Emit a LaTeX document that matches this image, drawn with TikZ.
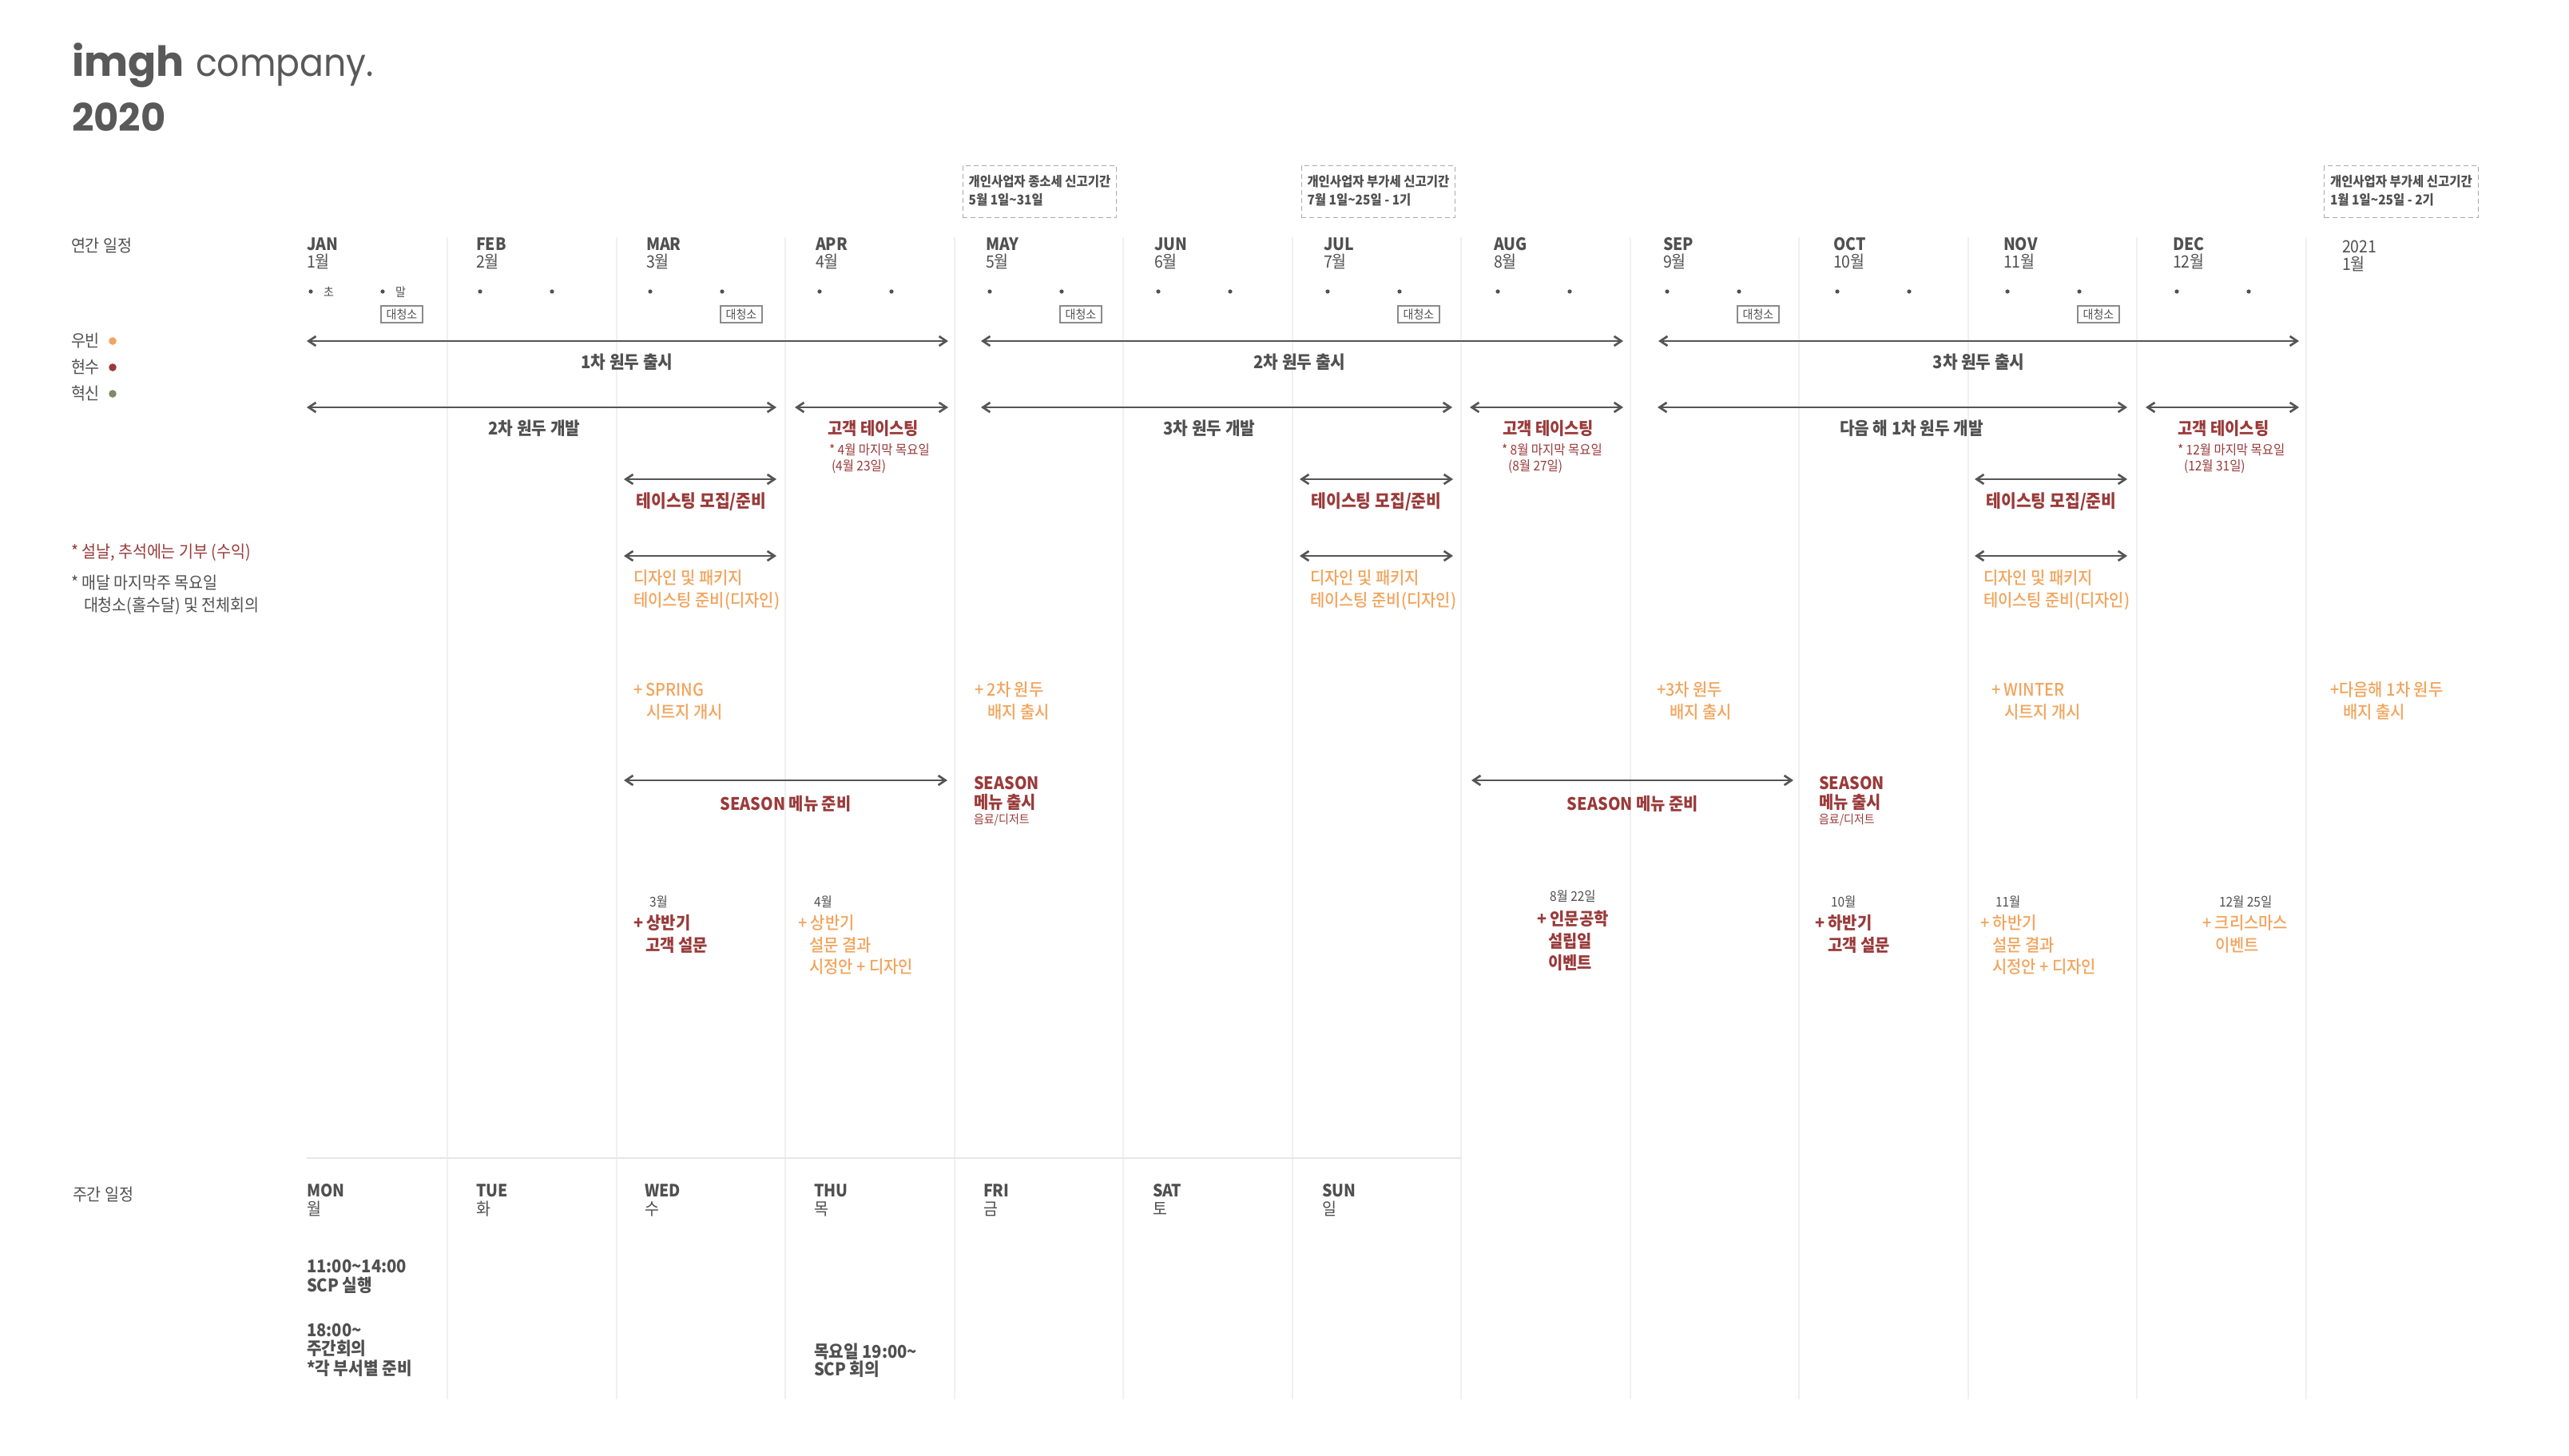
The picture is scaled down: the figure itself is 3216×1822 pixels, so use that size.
\documentclass[tikz,border=0pt]{standalone}
\usepackage{fontspec}
\setmainfont{Noto Sans CJK KR}[FakeStretch=0.92]
\newfontfamily\medfont{Noto Sans CJK KR Medium}[FakeStretch=0.92]
\newfontfamily\titlefont{Poppins}
\newfontfamily\titlefontn{Poppins}[FakeStretch=0.92]
\usetikzlibrary{arrows.meta}
\definecolor{txt}{HTML}{505050}
\definecolor{titlec}{HTML}{595959}
\definecolor{redc}{HTML}{9A3A3A}
\definecolor{orac}{HTML}{F2A45C}
\definecolor{grnc}{HTML}{7D8C68}
\definecolor{sepc}{HTML}{F0F0F0}
\definecolor{hlc}{HTML}{E6E6E6}
\definecolor{boxc}{HTML}{8A8A8A}
\definecolor{dashc}{HTML}{AAAAAA}
\definecolor{arrc}{HTML}{555555}
\newcommand\fsMon{\fontsize{10.6pt}{13pt}\selectfont}
\newcommand\fsMain{\fontsize{10.6pt}{12pt}\selectfont}
\newcommand\fsLab{\fontsize{11pt}{13pt}\selectfont}
\newcommand\fsRed{\fontsize{10.8pt}{12pt}\selectfont}
\newcommand\fsTp{\fontsize{11.1pt}{13pt}\selectfont}
\newcommand\fsWk{\fontsize{11pt}{13pt}\selectfont}
\newcommand\fsSmall{\fontsize{8.4pt}{10pt}\selectfont}
\newcommand\fsTiny{\fontsize{7.6pt}{9pt}\selectfont}
\tikzset{
  lbl/.style={inner sep=0pt, outer sep=0pt, anchor=base west, text=txt},
  clbl/.style={lbl, anchor=base},
  monA/.style={lbl, font=\fsMon\bfseries},
  monK/.style={lbl, font=\fsMon},
  plain/.style={lbl, font=\fsMain},
  rowlab/.style={clbl, font=\fsLab\bfseries},
  redlab/.style={lbl, font=\fsRed\bfseries, text=redc},
  credlab/.style={clbl, font=\fsRed\bfseries, text=redc},
  tplab/.style={clbl, font=\fsTp\bfseries, text=redc},
  rednote/.style={lbl, font=\fsSmall, text=redc},
  oratxt/.style={lbl, font=\medfont\fsRed, text=orac},
  datelab/.style={lbl, font=\fsSmall},
  boldtxt/.style={lbl, font=\fsWk\bfseries},
  boxtxt/.style={lbl, font=\fsSmall\bfseries},
  cleanbox/.style={draw=boxc, line width=0.7pt, inner sep=0pt, minimum width=26pt, minimum height=10.5pt, font=\fsTiny, text=txt},
  dbox/.style={draw=dashc, dashed, dash pattern=on 3pt off 2pt, line width=0.65pt, inner sep=0pt, minimum width=96.25pt, minimum height=32.5pt, anchor=north west},
  span/.style={draw=arrc, line width=1.35pt, >={Straight Barb[length=4.5pt,width=6pt]}, <->},
  sepline/.style={draw=sepc, line width=1pt}
}
\begin{document}
\begin{tikzpicture}[x=0.5pt,y=-0.5pt]
\useasboundingbox (0,0) rectangle (3216,1822);
\fill[white] (0,0) rectangle (3216,1822);

% column separators
\foreach \x in {560,771.5,983,1194.5,1406,1617.5,1829,2040.5,2252,2463.5,2675,2886.5}
  \draw[sepline] (\x,297) -- (\x,1752);
\draw[draw=hlc, line width=1.4pt] (384,1450) -- (1829,1450);

% title
\node[lbl, text=titlec, font=\titlefont\fontsize{26pt}{30pt}\selectfont\bfseries] (logo) at (90,95) {imgh};
\node[lbl, text=titlec, font=\titlefontn\fontsize{24pt}{30pt}\selectfont] (company) at (245,95) {company.};
\node[lbl, text=titlec, font=\titlefont\fontsize{24pt}{30pt}\selectfont\bfseries] (year) at (90,164) {2020};

% left column
\node[plain] (annual) at (89,315) {연간 일정};
\node[plain] (wb) at (89,434) {우빈};
\node[plain] (hs) at (89,467) {현수};
\node[plain] (hx) at (89,500) {혁신};
\fill[orac] (141,427) circle (2.4pt);
\fill[redc] (141,460) circle (2.4pt);
\fill[grnc] (141,493) circle (2.4pt);
\node[plain, text=redc] (note1) at (89,698) {* 설날, 추석에는 기부 (수익)};
\node[plain] (note2) at (89,737) {* 매달 마지막주 목요일};
\node[plain] (note3) at (105,765) {대청소(홀수달) 및 전체회의};
\node[plain] (weekly) at (91,1503) {주간 일정};

% months
\foreach \x/\a/\k [count=\i] in {384/JAN/1월,596/FEB/2월,809/MAR/3월,1021/APR/4월,1234/MAY/5월,1445/JUN/6월,1657/JUL/7월,1870/AUG/8월,2082/SEP/9월,2295/OCT/10월,2508/NOV/11월,2720/DEC/12월}{
  \node[monA] (ma\i) at (\x,313) {\a};
  \node[monK] (mk\i) at (\x,335) {\k};
  \fill[txt] (\x+5,365) circle (1.3pt);
  \fill[txt] (\x+95,365) circle (1.3pt);
}
\node[monK] (y2021) at (2932,316) {2021};
\node[monK] (y2021m) at (2932,338) {1월};
\node[lbl, font=\fsTiny] (cho) at (405,371) {초};
\node[lbl, font=\fsTiny] (mal) at (495,371) {말};
\foreach \x [count=\i] in {384,809,1234,1657,2082,2508}
  \node[cleanbox] (cl\i) at (\x+119,393.5) {대청소};

% tax boxes
\node[dbox] (tax1) at (1204.5,207) {};
\node[boxtxt] (tax1a) at (1212.6,233) {개인사업자 종소세 신고기간};
\node[boxtxt] (tax1b) at (1212.6,256) {5월 1일\textasciitilde31일};
\node[dbox] (tax2) at (1628.5,207) {};
\node[boxtxt] (tax2a) at (1636.5,233) {개인사업자 부가세 신고기간};
\node[boxtxt] (tax2b) at (1636.5,256) {7월 1일\textasciitilde25일 - 1기};
\node[dbox] (tax3) at (2909,207) {};
\node[boxtxt] (tax3a) at (2917,233) {개인사업자 부가세 신고기간};
\node[boxtxt] (tax3b) at (2917,256) {1월 1일\textasciitilde25일 - 2기};

% span arrows
\foreach \n/\a/\b/\y in {r1a/384/1187/427, r1b/1228/2032/427, r1c/2076/2878/427,
  r2a/384/972/510, r2b/995/1187/510, r2c/1228/1818/510, r2d/1840/2032/510, r2e/2075/2663/510, r2f/2686/2878/510,
  r3a/781/972/600, r3b/1627/1819/600, r3c/2472/2663/600,
  r4a/781/972/696, r4b/1627/1819/696, r4c/2472/2663/696,
  r6a/781/1186/977, r6b/1842/2245/977}{
  \coordinate (\n-l) at (\a,\y);
  \coordinate (\n-r) at (\b,\y);
  \draw[span] (\n-l) -- (\n-r);
}

% row 1 / 2 labels
\node[rowlab] (l1a) at (785,461) {1차 원두 출시};
\node[rowlab] (l1b) at (1627,461) {2차 원두 출시};
\node[rowlab] (l1c) at (2477,461) {3차 원두 출시};
\node[rowlab] (l2a) at (669,544) {2차 원두 개발};
\node[rowlab] (l2c) at (1514,544) {3차 원두 개발};
\node[rowlab] (l2e) at (2393,544) {다음 해 1차 원두 개발};

% customer tasting
\node[redlab] (ct1) at (1036,544) {고객 테이스팅};
\node[rednote] (ct1a) at (1038,569) {* 4월 마지막 목요일};
\node[rednote] (ct1b) at (1041,589) {(4월 23일)};
\node[redlab] (ct2) at (1881,544) {고객 테이스팅};
\node[rednote] (ct2a) at (1880,569) {* 8월 마지막 목요일};
\node[rednote] (ct2b) at (1888,589) {(8월 27일)};
\node[redlab] (ct3) at (2726,544) {고객 테이스팅};
\node[rednote] (ct3a) at (2726,569) {* 12월 마지막 목요일};
\node[rednote] (ct3b) at (2734,589) {(12월 31일)};

% row 3 / 4
\node[tplab] (tp1) at (878,635) {테이스팅 모집/준비};
\node[tplab] (tp2) at (1723,635) {테이스팅 모집/준비};
\node[tplab] (tp3) at (2568,635) {테이스팅 모집/준비};
\foreach \x [count=\i] in {793,1640,2483}{
  \node[oratxt] (dz\i a) at (\x,731) {디자인 및 패키지};
  \node[oratxt] (dz\i b) at (\x,759) {테이스팅 준비(디자인)};
}

% row 5
\node[oratxt] (sp1) at (793,871) {+ SPRING};
\node[oratxt] (sp2) at (809,899) {시트지 개시};
\node[oratxt] (bd1) at (1220,871) {+ 2차 원두};
\node[oratxt] (bd2) at (1236,899) {배지 출시};
\node[oratxt] (bd3) at (2074,871) {+3차 원두};
\node[oratxt] (bd4) at (2090,899) {배지 출시};
\node[oratxt] (wt1) at (2493,871) {+ WINTER};
\node[oratxt] (wt2) at (2509,899) {시트지 개시};
\node[oratxt] (nx1) at (2917,871) {+다음해 1차 원두};
\node[oratxt] (nx2) at (2933,899) {배지 출시};

% row 6
\node[credlab] (sn1) at (983.5,1014) {SEASON 메뉴 준비};
\node[credlab] (sn2) at (2044,1014) {SEASON 메뉴 준비};
\node[redlab] (ss1) at (1219,988) {SEASON};
\node[redlab] (ss2) at (1219,1012) {메뉴 출시};
\node[lbl, font=\fsTiny, text=redc] (ss3) at (1219,1031) {음료/디저트};
\node[redlab] (so1) at (2277,988) {SEASON};
\node[redlab] (so2) at (2277,1012) {메뉴 출시};
\node[lbl, font=\fsTiny, text=redc] (so3) at (2277,1031) {음료/디저트};

% row 7 events
\node[datelab] (ev1d) at (813,1135) {3월};
\node[redlab] (ev1a) at (793,1163) {+ 상반기};
\node[redlab] (ev1b) at (808,1191) {고객 설문};
\node[datelab] (ev2d) at (1019,1135) {4월};
\node[oratxt] (ev2a) at (999,1163) {+ 상반기};
\node[oratxt] (ev2b) at (1013,1191) {설문 결과};
\node[oratxt] (ev2c) at (1013,1218) {시정안 + 디자인};
\node[datelab] (ev3d) at (1940,1128) {8월 22일};
\node[redlab] (ev3a) at (1924,1158) {+ 인문공학};
\node[redlab] (ev3b) at (1938,1186) {설립일};
\node[redlab] (ev3c) at (1938,1213) {이벤트};
\node[datelab] (ev4d) at (2292,1135) {10월};
\node[redlab] (ev4a) at (2272,1163) {+ 하반기};
\node[redlab] (ev4b) at (2288,1191) {고객 설문};
\node[datelab] (ev5d) at (2498,1135) {11월};
\node[oratxt] (ev5a) at (2479,1163) {+ 하반기};
\node[oratxt] (ev5b) at (2494,1191) {설문 결과};
\node[oratxt] (ev5c) at (2494,1218) {시정안 + 디자인};
\node[datelab] (ev6d) at (2778,1135) {12월 25일};
\node[oratxt] (ev6a) at (2757,1163) {+ 크리스마스};
\node[oratxt] (ev6b) at (2773,1191) {이벤트};

% weekly
\foreach \x/\a/\k [count=\i] in {384/MON/월,596/TUE/화,807/WED/수,1019/THU/목,1231/FRI/금,1443/SAT/토,1655/SUN/일}{
  \node[lbl, font=\fsMain\bfseries] (da\i) at (\x,1498) {\a};
  \node[lbl, font=\fsMain] (dk\i) at (\x,1521) {\k};
}
\node[boldtxt] (wk1) at (384,1593) {11:00\textasciitilde14:00};
\node[boldtxt] (wk2) at (384,1617) {SCP 실행};
\node[boldtxt] (wk3) at (384,1673) {18:00\textasciitilde};
\node[boldtxt] (wk4) at (384,1696) {주간회의};
\node[boldtxt] (wk5) at (384,1721) {*각 부서별 준비};
\node[boldtxt] (wk6) at (1019,1700) {목요일 19:00\textasciitilde};
\node[boldtxt] (wk7) at (1019,1722) {SCP 회의};
\end{tikzpicture}
\end{document}
